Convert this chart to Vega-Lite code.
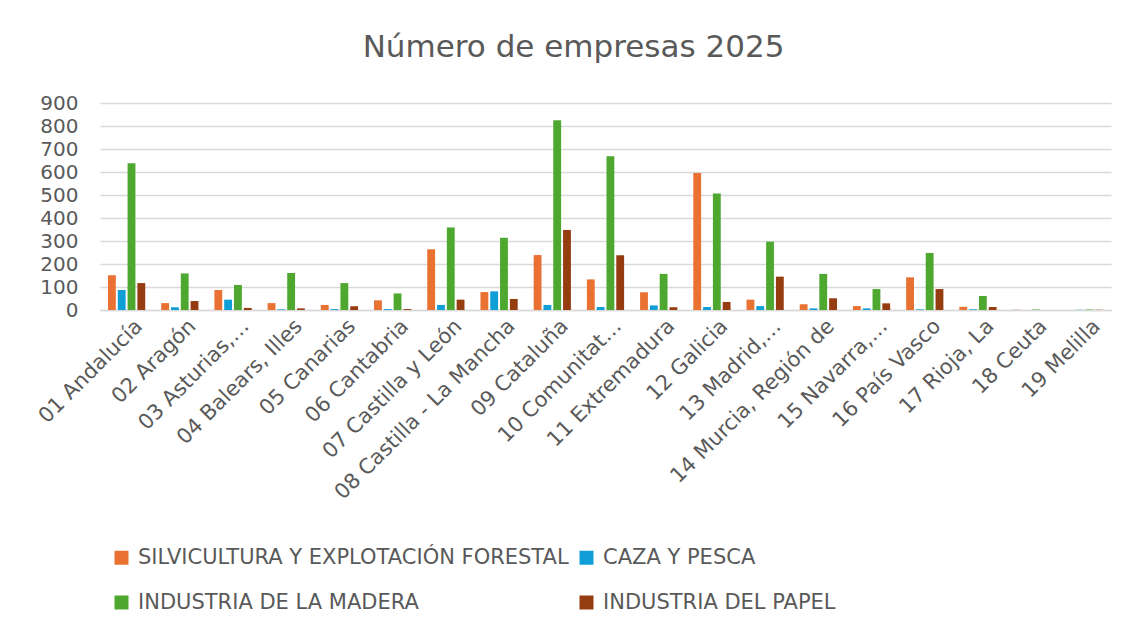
{
  "$schema": "https://vega.github.io/schema/vega-lite/v6.json",
  "autosize": {"type": "none"},
  "width": 1011,
  "height": 207,
  "padding": {"left": 100, "top": 103, "right": 20, "bottom": 323},
  "background": "white",
  "title": {
    "text": "Número de empresas 2025",
    "font": "DejaVu Sans",
    "fontSize": 31,
    "fontWeight": "normal",
    "color": "#595959",
    "anchor": "middle",
    "dx": -32,
    "offset": 29
  },
  "data": {
    "values": [
      {"region": "01 Andalucía", "SILVICULTURA Y EXPLOTACIÓN FORESTAL": 151, "CAZA Y PESCA": 87, "INDUSTRIA DE LA MADERA": 638, "INDUSTRIA DEL PAPEL": 117},
      {"region": "02 Aragón", "SILVICULTURA Y EXPLOTACIÓN FORESTAL": 30, "CAZA Y PESCA": 12, "INDUSTRIA DE LA MADERA": 159, "INDUSTRIA DEL PAPEL": 39},
      {"region": "03 Asturias,…", "SILVICULTURA Y EXPLOTACIÓN FORESTAL": 87, "CAZA Y PESCA": 45, "INDUSTRIA DE LA MADERA": 109, "INDUSTRIA DEL PAPEL": 9},
      {"region": "04 Balears, Illes", "SILVICULTURA Y EXPLOTACIÓN FORESTAL": 30, "CAZA Y PESCA": 3, "INDUSTRIA DE LA MADERA": 161, "INDUSTRIA DEL PAPEL": 7},
      {"region": "05 Canarias", "SILVICULTURA Y EXPLOTACIÓN FORESTAL": 22, "CAZA Y PESCA": 4, "INDUSTRIA DE LA MADERA": 117, "INDUSTRIA DEL PAPEL": 16},
      {"region": "06 Cantabria", "SILVICULTURA Y EXPLOTACIÓN FORESTAL": 42, "CAZA Y PESCA": 4, "INDUSTRIA DE LA MADERA": 72, "INDUSTRIA DEL PAPEL": 4},
      {"region": "07 Castilla y León", "SILVICULTURA Y EXPLOTACIÓN FORESTAL": 264, "CAZA Y PESCA": 22, "INDUSTRIA DE LA MADERA": 359, "INDUSTRIA DEL PAPEL": 45},
      {"region": "08 Castilla - La Mancha", "SILVICULTURA Y EXPLOTACIÓN FORESTAL": 78, "CAZA Y PESCA": 81, "INDUSTRIA DE LA MADERA": 314, "INDUSTRIA DEL PAPEL": 48},
      {"region": "09 Cataluña", "SILVICULTURA Y EXPLOTACIÓN FORESTAL": 239, "CAZA Y PESCA": 22, "INDUSTRIA DE LA MADERA": 825, "INDUSTRIA DEL PAPEL": 348},
      {"region": "10 Comunitat…", "SILVICULTURA Y EXPLOTACIÓN FORESTAL": 133, "CAZA Y PESCA": 13, "INDUSTRIA DE LA MADERA": 668, "INDUSTRIA DEL PAPEL": 238},
      {"region": "11 Extremadura", "SILVICULTURA Y EXPLOTACIÓN FORESTAL": 77, "CAZA Y PESCA": 20, "INDUSTRIA DE LA MADERA": 157, "INDUSTRIA DEL PAPEL": 12},
      {"region": "12 Galicia", "SILVICULTURA Y EXPLOTACIÓN FORESTAL": 596, "CAZA Y PESCA": 13, "INDUSTRIA DE LA MADERA": 506, "INDUSTRIA DEL PAPEL": 35},
      {"region": "13 Madrid,…", "SILVICULTURA Y EXPLOTACIÓN FORESTAL": 45, "CAZA Y PESCA": 17, "INDUSTRIA DE LA MADERA": 297, "INDUSTRIA DEL PAPEL": 145},
      {"region": "14 Murcia, Región de", "SILVICULTURA Y EXPLOTACIÓN FORESTAL": 25, "CAZA Y PESCA": 7, "INDUSTRIA DE LA MADERA": 157, "INDUSTRIA DEL PAPEL": 51},
      {"region": "15 Navarra,…", "SILVICULTURA Y EXPLOTACIÓN FORESTAL": 17, "CAZA Y PESCA": 7, "INDUSTRIA DE LA MADERA": 91, "INDUSTRIA DEL PAPEL": 29},
      {"region": "16 País Vasco", "SILVICULTURA Y EXPLOTACIÓN FORESTAL": 142, "CAZA Y PESCA": 3, "INDUSTRIA DE LA MADERA": 248, "INDUSTRIA DEL PAPEL": 91},
      {"region": "17 Rioja, La", "SILVICULTURA Y EXPLOTACIÓN FORESTAL": 14, "CAZA Y PESCA": 3, "INDUSTRIA DE LA MADERA": 61, "INDUSTRIA DEL PAPEL": 13},
      {"region": "18 Ceuta", "SILVICULTURA Y EXPLOTACIÓN FORESTAL": 1, "CAZA Y PESCA": 0, "INDUSTRIA DE LA MADERA": 2, "INDUSTRIA DEL PAPEL": 0},
      {"region": "19 Melilla", "SILVICULTURA Y EXPLOTACIÓN FORESTAL": 0, "CAZA Y PESCA": 1, "INDUSTRIA DE LA MADERA": 2, "INDUSTRIA DEL PAPEL": 1}
    ]
  },
  "transform": [
    {"fold": ["SILVICULTURA Y EXPLOTACIÓN FORESTAL", "CAZA Y PESCA", "INDUSTRIA DE LA MADERA", "INDUSTRIA DEL PAPEL"], "as": ["serie", "valor"]}
  ],
  "mark": {"type": "bar"},
  "encoding": {
    "x": {
      "field": "region",
      "type": "nominal",
      "sort": "ascending",
      "scale": {"paddingInner": 0.3, "paddingOuter": 0.15},
      "axis": {
        "title": null,
        "labelAngle": -45,
        "labelAlign": "right",
        "labelBaseline": "top",
        "labelFont": "DejaVu Sans",
        "labelFontSize": 21,
        "labelColor": "#595959",
        "labelPadding": 5,
        "labelOffset": 5,
        "ticks": false,
        "domainColor": "#d9d9d9",
        "domainWidth": 1.3,
        "grid": false,
        "labelLimit": 400
      }
    },
    "xOffset": {
      "field": "serie",
      "type": "nominal",
      "sort": ["SILVICULTURA Y EXPLOTACIÓN FORESTAL", "CAZA Y PESCA", "INDUSTRIA DE LA MADERA", "INDUSTRIA DEL PAPEL"],
      "scale": {"paddingInner": 0.2, "paddingOuter": 0}
    },
    "y": {
      "field": "valor",
      "type": "quantitative",
      "scale": {"domain": [0, 900], "nice": false},
      "axis": {
        "title": null,
        "values": [0, 100, 200, 300, 400, 500, 600, 700, 800, 900],
        "labelFont": "DejaVu Sans",
        "labelFontSize": 20,
        "labelColor": "#595959",
        "labelPadding": 22,
        "ticks": false,
        "domain": false,
        "gridColor": "#d9d9d9",
        "gridWidth": 1.3
      }
    },
    "color": {
      "field": "serie",
      "type": "nominal",
      "scale": {
        "domain": ["SILVICULTURA Y EXPLOTACIÓN FORESTAL", "CAZA Y PESCA", "INDUSTRIA DE LA MADERA", "INDUSTRIA DEL PAPEL"],
        "range": ["#E97132", "#0F9ED5", "#4EA72E", "#963C11"]
      },
      "legend": {
        "title": null,
        "orient": "none",
        "legendX": 11,
        "legendY": 444,
        "direction": "horizontal",
        "columns": 2,
        "columnPadding": 7,
        "rowPadding": 23,
        "padding": 0,
        "symbolType": "square",
        "symbolSize": 196,
        "symbolStrokeWidth": 0,
        "labelFont": "DejaVu Sans",
        "labelFontSize": 21,
        "labelColor": "#595959",
        "labelOffset": 6,
        "labelLimit": 600
      }
    }
  },
  "config": {
    "view": {"stroke": null}
  }
}
